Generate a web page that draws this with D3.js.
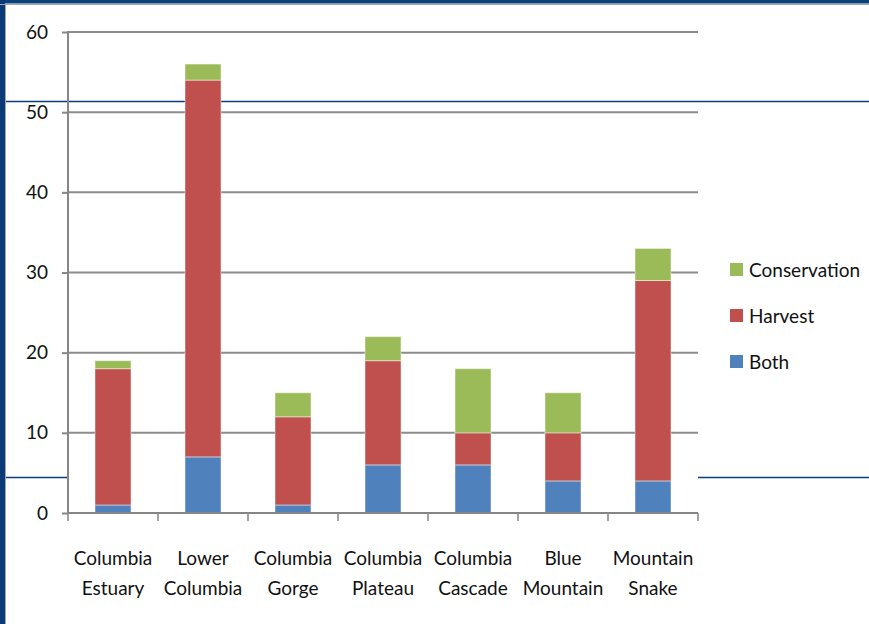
<!DOCTYPE html>
<html>
<head>
<meta charset="utf-8">
<script src="https://cdn.jsdelivr.net/npm/d3@7"></script>
<style>
  body { margin: 0; background: #fff; }
  svg { display: block; font-family: Lato, "Noto Sans", sans-serif; }
</style>
</head>
<body>
<svg id="container"></svg>
<script>
const regions = [
  ["Columbia", "Estuary"],
  ["Lower", "Columbia"],
  ["Columbia", "Gorge"],
  ["Columbia", "Plateau"],
  ["Columbia", "Cascade"],
  ["Blue", "Mountain"],
  ["Mountain", "Snake"],
];
const both = [1, 7, 1, 6, 6, 4, 4];
const harvest = [17, 47, 11, 13, 4, 6, 25];
const conservation = [1, 2, 3, 3, 8, 5, 4];
const seriesNames = ["Both", "Harvest", "Conservation"];
const yTicks = [0, 10, 20, 30, 40, 50, 60];

let width = 869;
let height = 624;
let marginTop = 32;
let marginLeft = 68;
let plotRight = 698;
let plotBottom = 513;

const colors = { Both: "#4F81BD", Harvest: "#C0504D", Conservation: "#9BBB59" };

const svg = d3.select("#container").attr("width", width).attr("height", height);

// slide frame bits behind the chart
svg.append("rect").attr("x", 0).attr("y", 0).attr("width", width).attr("height", 3.5).attr("fill", "#0B417A");
svg.append("rect").attr("x", 0).attr("y", 0).attr("width", 5).attr("height", height).attr("fill", "#0B3A78");
svg.append("line").attr("x1", 0).attr("x2", width).attr("y1", 4.5).attr("y2", 4.5).attr("stroke", "#a6a6a6").attr("stroke-width", 1.2);
svg.append("line").attr("x1", 5.5).attr("x2", 5.5).attr("y1", 4).attr("y2", height).attr("stroke", "#a6a6a6").attr("stroke-width", 1);
svg.append("line").attr("x1", 6).attr("x2", width).attr("y1", 477.5).attr("y2", 477.5).attr("stroke", "#0B3D7E").attr("stroke-width", 1.3);

const keys = regions.map((d) => d.join(" "));
const table = keys.map((k, i) => ({ name: k, Both: both[i], Harvest: harvest[i], Conservation: conservation[i] }));

const x = d3.scaleBand().domain(keys).range([marginLeft, plotRight]).paddingInner(0.6).paddingOuter(0.3);
const band = d3.scaleBand().domain(keys).range([marginLeft, plotRight]);
const y = d3.scaleLinear().domain([0, 60]).range([plotBottom, marginTop]);

svg.append("rect").attr("x", marginLeft).attr("y", marginTop).attr("width", plotRight - marginLeft).attr("height", plotBottom - marginTop).attr("fill", "#fff");

// gridlines
svg.append("g")
  .selectAll("line")
  .data(yTicks.filter((d) => d > 0))
  .join("line")
  .attr("x1", marginLeft).attr("x2", plotRight)
  .attr("y1", (d) => y(d)).attr("y2", (d) => y(d))
  .attr("stroke", "#8c8c8c").attr("stroke-width", 2);

svg.append("line").attr("x1", 6).attr("x2", width).attr("y1", 101.5).attr("y2", 101.5).attr("stroke", "#0B3D7E").attr("stroke-width", 1.3);

const stacked = d3.stack().keys(seriesNames)(table);

svg.append("g")
  .selectAll("g")
  .data(stacked)
  .join("g")
  .attr("fill", (s) => colors[s.key])
  .selectAll("rect")
  .data((s) => s)
  .join("rect")
  .attr("x", (d) => x(d.data.name))
  .attr("width", x.bandwidth())
  .attr("y", (d) => y(d[1]))
  .attr("height", (d) => y(d[0]) - y(d[1]))
  .attr("stroke", "#ffffff").attr("stroke-opacity", 0.45).attr("stroke-width", 1);

// y axis
const yAxis = svg.append("g")
  .attr("transform", `translate(${marginLeft},0)`)
  .call(d3.axisLeft(y).tickValues(yTicks).tickSize(6).tickPadding(14).tickFormat(d3.format("d")));
yAxis.select(".domain").attr("stroke", "#868686").attr("stroke-width", 2).attr("d", `M0,${marginTop - 1}V${plotBottom}`);
yAxis.selectAll(".tick line").attr("stroke", "#868686").attr("stroke-width", 2);
yAxis.selectAll(".tick text").attr("font-size", 19).attr("fill", "#111").attr("font-family", "Lato, 'Noto Sans', sans-serif");

// x axis
const xAxis = svg.append("g")
  .attr("transform", `translate(0,${plotBottom})`)
  .call(d3.axisBottom(band).tickSize(0).tickFormat(""));
xAxis.select(".domain").attr("stroke", "#868686").attr("stroke-width", 2).attr("d", `M${marginLeft},0H${plotRight}`);
xAxis.selectAll(".tick").remove();

svg.append("g")
  .selectAll("line")
  .data(keys.map((k) => band(k)).concat([plotRight]))
  .join("line")
  .attr("x1", (d) => d).attr("x2", (d) => d)
  .attr("y1", plotBottom).attr("y2", plotBottom + 8)
  .attr("stroke", "#868686").attr("stroke-width", 1.5);

svg.append("g")
  .selectAll("text")
  .data(regions)
  .join("text")
  .attr("x", (d) => band(d.join(" ")) + band.bandwidth() / 2)
  .attr("y", 565)
  .attr("text-anchor", "middle")
  .attr("font-size", 19)
  .attr("fill", "#111")
  .each(function (d) {
    d3.select(this).selectAll("tspan")
      .data(d)
      .join("tspan")
      .attr("x", band(d.join(" ")) + band.bandwidth() / 2)
      .attr("dy", (t, i) => (i === 0 ? 0 : 30))
      .text((t) => t);
  });

// legend
const legend = svg.append("g")
  .selectAll("g")
  .data(seriesNames.slice().reverse())
  .join("g")
  .attr("transform", (d, i) => `translate(730,${263 + i * 46})`);
legend.append("rect").attr("width", 13).attr("height", 13).attr("fill", (d) => colors[d]);
legend.append("text").attr("x", 19).attr("y", 14).attr("font-size", 19).attr("fill", "#111").text((d) => d);
</script>
</body>
</html>
